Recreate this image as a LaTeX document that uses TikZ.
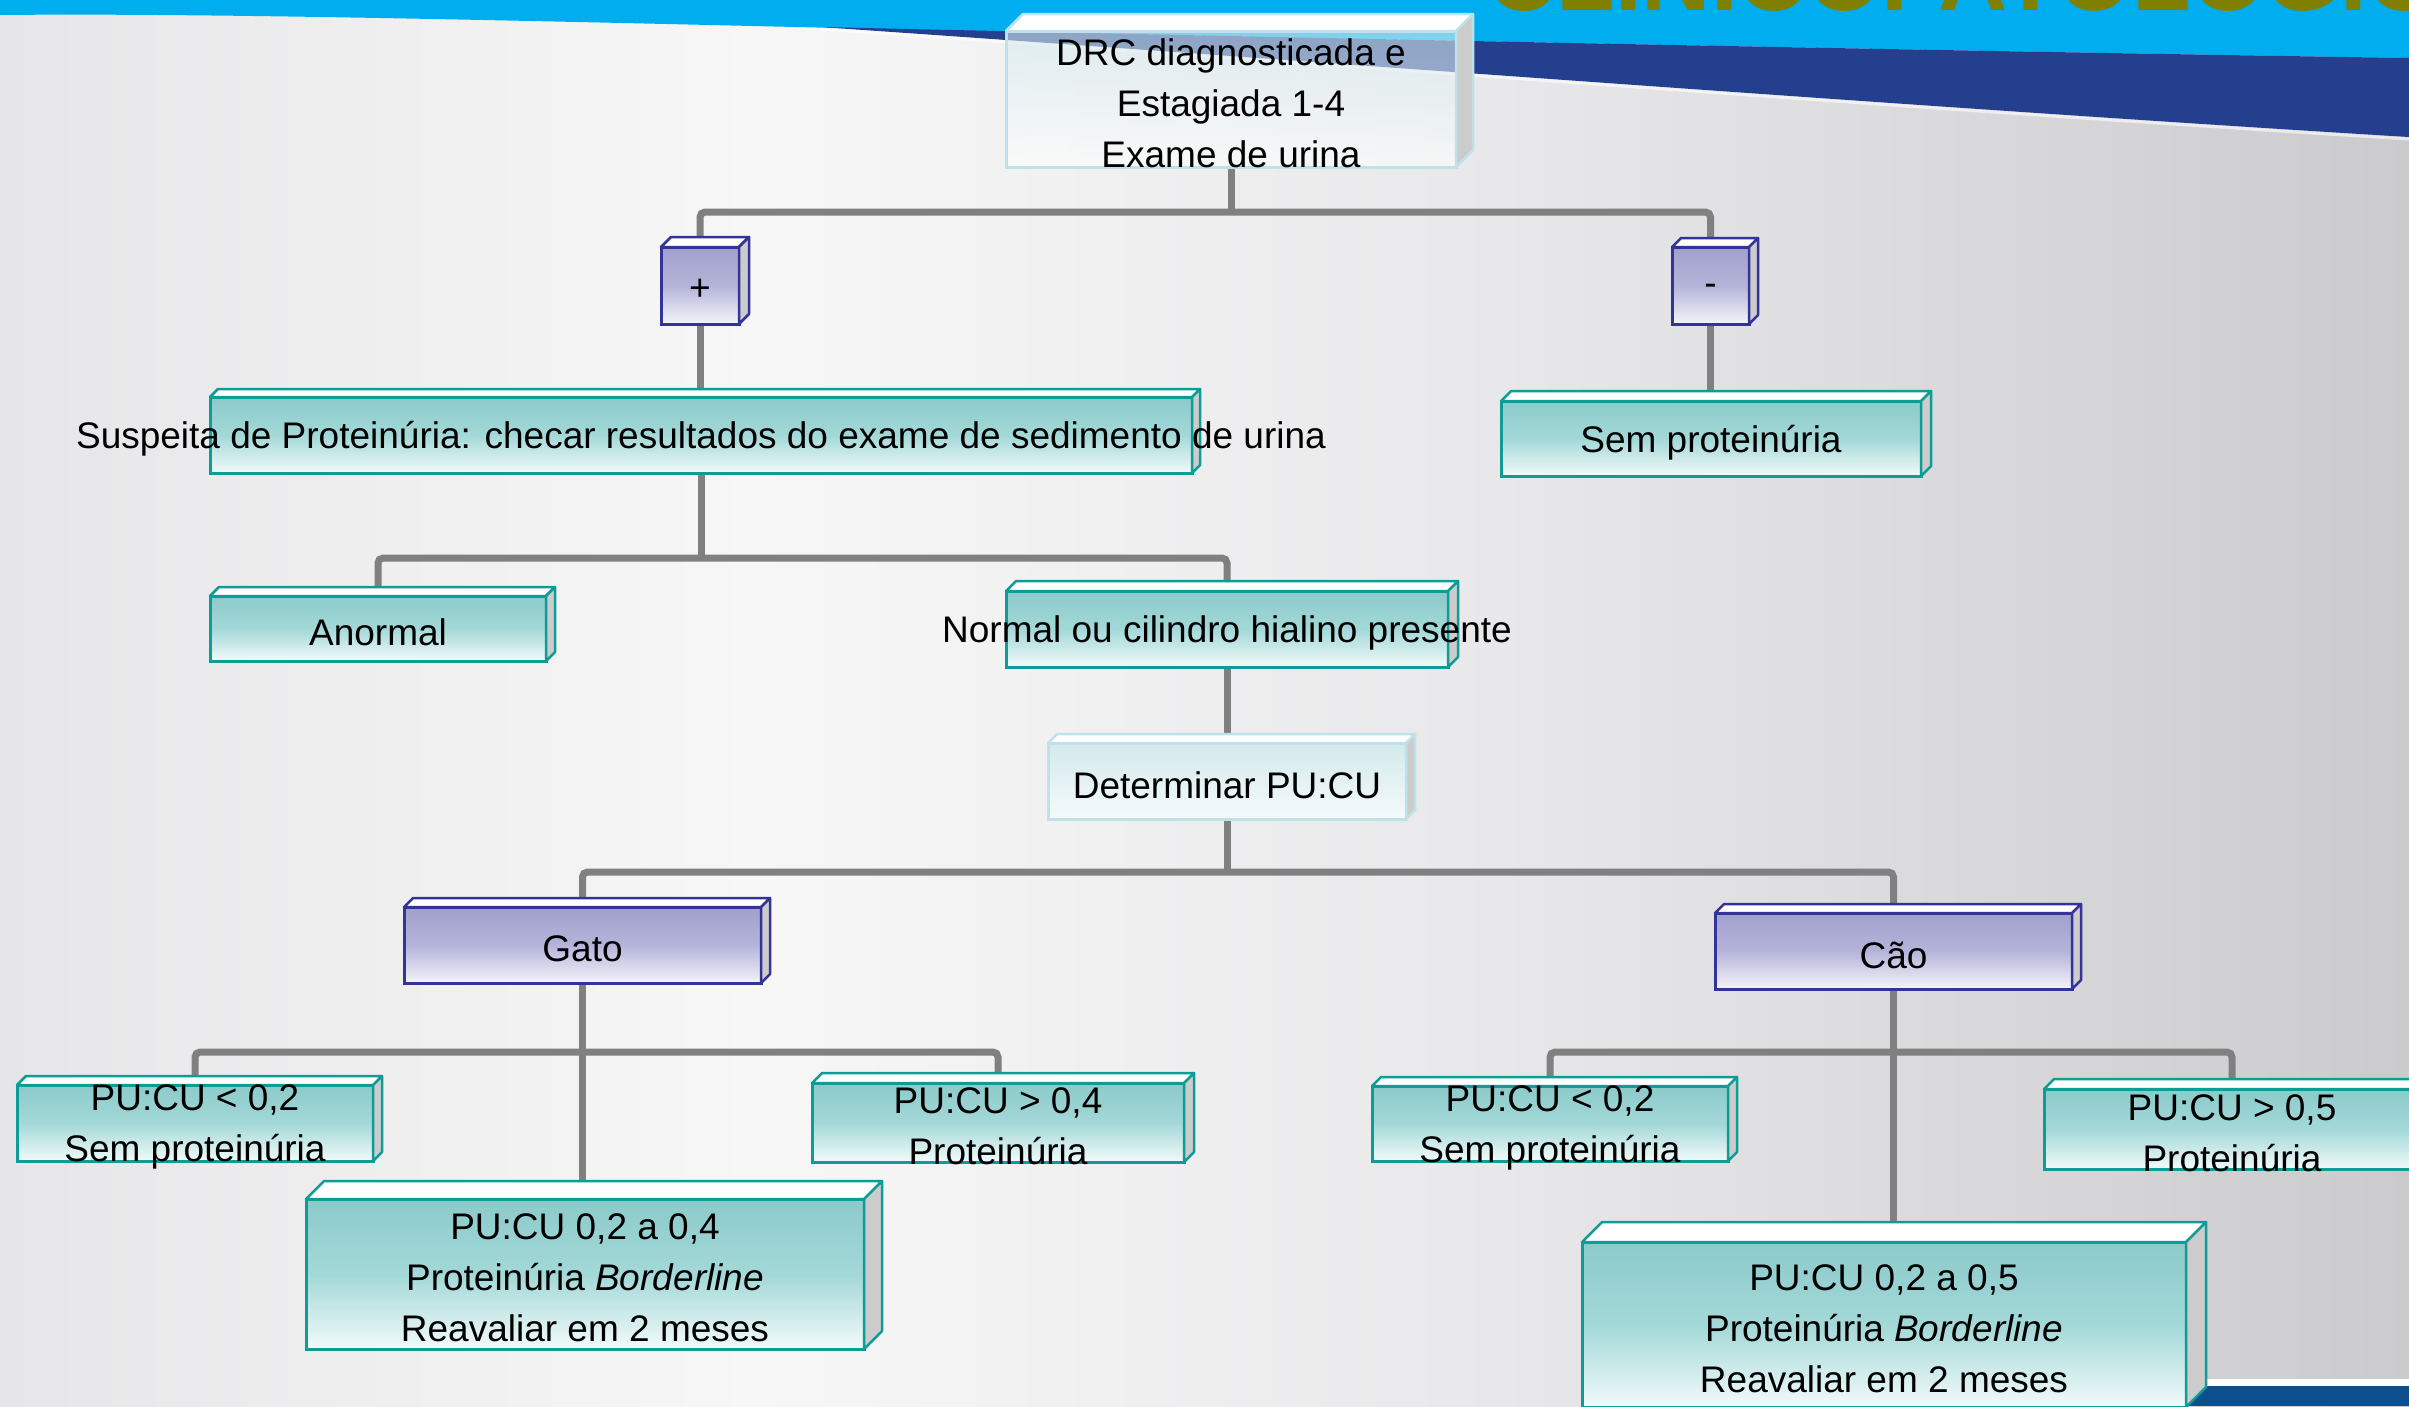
\documentclass[tikz,border=0pt]{standalone}
\usepackage{fontspec}
\setmainfont{Liberation Sans}
\definecolor{tealB}{HTML}{0E9C96}
\definecolor{tealTop}{HTML}{8CCACA}
\definecolor{tealMid}{HTML}{A3D8D8}
\definecolor{tealBot}{HTML}{F2FAFA}
\definecolor{purpB}{HTML}{333399}
\definecolor{purpTop}{HTML}{A0A0CC}
\definecolor{purpMid}{HTML}{B4B4DA}
\definecolor{purpBot}{HTML}{F4F4FA}
\definecolor{paleB}{HTML}{BEE2E7}
\definecolor{paleTop}{HTML}{D4E9EC}
\definecolor{paleBot}{HTML}{F4FAFB}
\definecolor{sideG}{HTML}{CCCCCC}
\definecolor{lineG}{HTML}{808080}
\definecolor{bgA}{HTML}{E6E6E8}
\definecolor{bgB}{HTML}{F7F7F7}
\definecolor{bgC}{HTML}{E8E8EA}
\definecolor{bgD}{HTML}{CBCBCE}
\definecolor{cyanBan}{HTML}{00AEEF}
\definecolor{navyBan}{HTML}{243F8E}
\definecolor{navyBar}{HTML}{0B4F8F}
\definecolor{oliveT}{HTML}{808000}
\pgfdeclarelayer{bgl}
\pgfdeclarelayer{lines}
\pgfsetlayers{bgl,lines,main}
\newcommand\mkbox[8]{%
  \node[#1front, minimum width={(#5-#3)*1pt}, minimum height={(#6-#4)*1pt}] (#2) at ({(#3+#5)/2},{(#4+#6)/2}) {};
  \filldraw[#1face, fill=white] (#2.north west) -- ++(#7,-#7) -- ([shift={(#7,-#7)}]#2.north east) -- (#2.north east) -- cycle;
  \filldraw[#1face, fill=sideG] (#2.north east) -- ++(#7,-#7) -- ([shift={(#7,-#7)}]#2.south east) -- (#2.south east) -- cycle;
  \node[txt] (#2t) at (#2.center) {#8};
}
\begin{document}
\begin{tikzpicture}[x=1pt,y=-1pt,
  tealfront/.style={rectangle, draw=tealB, line width=3pt, top color=tealTop, bottom color=tealBot, middle color=tealMid, inner sep=0pt, outer sep=0pt},
  tealface/.style={draw=tealB, line width=2.5pt, line join=round},
  purpfront/.style={rectangle, draw=purpB, line width=3pt, top color=purpTop, bottom color=purpBot, middle color=purpMid, inner sep=0pt, outer sep=0pt},
  purpface/.style={draw=purpB, line width=2.5pt, line join=round},
  palefront/.style={rectangle, draw=paleB, line width=3pt, top color=paleTop, bottom color=paleBot, inner sep=0pt, outer sep=0pt},
  paleface/.style={draw=paleB, line width=2.5pt, line join=round},
  drcfront/.style={rectangle, draw=paleB, line width=3pt, top color=paleTop, bottom color=white, fill opacity=0.6, inner sep=0pt, outer sep=0pt},
  drcface/.style={draw=paleB, line width=2.5pt, line join=round},
  txt/.style={font=\fontsize{37}{51}\selectfont, align=center, inner sep=0pt, text=black, yshift=-4pt},
  conn/.style={draw=lineG, line width=7pt, rounded corners=5pt}
]
\useasboundingbox (0,0) rectangle (2409,1406);
\clip (0,0) rectangle (2409,1406);
\begin{pgfonlayer}{bgl}
\begin{scope}
\clip (0,0) rectangle (2409,1406);
\shade[left color=bgA, right color=bgB] (0,0) rectangle (751,1406);
\shade[left color=bgB, right color=bgC] (750,0) rectangle (1501,1406);
\shade[left color=bgC, right color=bgD] (1500,0) rectangle (2409,1406);
\fill[cyanBan] (0,0) -- (2409,0) -- (2409,58) .. controls (1900,50) and (1300,38) .. (880,29) .. controls (500,20) and (200,13) .. (0,15) -- cycle;
\fill[navyBan] (820,27) .. controls (1300,38) and (1900,50) .. (2409,58) -- (2409,137) .. controls (1900,106) and (1300,60) .. (820,27) -- cycle;
\draw[white, opacity=0.6, line width=3pt] (2409,139) .. controls (1900,108) and (1300,62) .. (820,29);
\node[anchor=base west, inner sep=0pt, text=oliveT, font=\fontsize{96}{96}\selectfont\bfseries] (title) at (1487,10) {CLINICOPATOLÓGICOS};
\fill[white] (2150,1379) rectangle (2409,1386);
\fill[navyBar] (2150,1386) rectangle (2409,1406);
\end{scope}
\end{pgfonlayer}
\mkbox{drc}{drc}{1006}{31}{1456}{167}{17}{DRC diagnosticada e\\Estagiada 1-4\\Exame de urina}
\mkbox{purp}{plus}{661}{247}{739}{324}{10}{+}
\mkbox{purp}{minus}{1672}{247}{1749}{324}{9}{-}
\mkbox{teal}{susp}{210}{397}{1192}{473}{8}{Suspeita de Proteinúria: checar resultados do exame de sedimento de urina}
\mkbox{teal}{sem}{1501}{401}{1921}{476}{10}{Sem proteinúria}
\mkbox{teal}{anormal}{210}{596}{546}{661}{9}{Anormal}
\mkbox{teal}{normal}{1006}{591}{1448}{667}{10}{Normal ou cilindro hialino presente}
\mkbox{pale}{det}{1048}{743}{1406}{819}{9}{Determinar PU:CU}
\mkbox{purp}{gato}{404}{907}{761}{983}{9}{Gato}
\mkbox{purp}{cao}{1715}{913}{2072}{989}{9}{Cão}
\mkbox{teal}{gl}{17}{1085}{373}{1161}{9}{PU:CU < 0,2\\Sem proteinúria}
\mkbox{teal}{gr}{812}{1083}{1184}{1162}{10}{PU:CU > 0,4\\Proteinúria}
\mkbox{teal}{gm}{306}{1199}{864}{1349}{18}{PU:CU 0,2 a 0,4\\Proteinúria \textit{Borderline}\\Reavaliar em 2 meses}
\mkbox{teal}{cl}{1372}{1086}{1728}{1161}{9}{PU:CU < 0,2\\Sem proteinúria}
\mkbox{teal}{cr}{2044}{1089}{2420}{1169}{10}{PU:CU > 0,5\\Proteinúria}
\mkbox{teal}{cm}{1582}{1242}{2186}{1407}{20}{PU:CU 0,2 a 0,5\\Proteinúria \textit{Borderline}\\Reavaliar em 2 meses}
\path (drc.south) ++(0,45) coordinate (j1);
\path (susp.south) ++(0,85) coordinate (j2);
\path (det.south) ++(0,53) coordinate (j3);
\path (gato.south) ++(0,69) coordinate (j4);
\path (cao.south) ++(0,63) coordinate (j5);
\begin{pgfonlayer}{lines}
\draw[conn] (drc.south) -- (j1);
\draw[conn] (plus.north) |- (j1) -| (minus.north);
\draw[conn] (plus.south) -- (plus.south |- susp.north);
\draw[conn] (minus.south) -- (minus.south |- sem.north);
\draw[conn] (susp.south) -- (j2);
\draw[conn] (anormal.north) |- (j2) -| (normal.north);
\draw[conn] (normal.south) -- (normal.south |- det.north);
\draw[conn] (det.south) -- (j3);
\draw[conn] (gato.north) |- (j3) -| (cao.north);
\draw[conn] (gato.south) -- (gato.south |- gm.north);
\draw[conn] (gl.north) |- (j4) -| (gr.north);
\draw[conn] (cao.south) -- (cao.south |- cm.north);
\draw[conn] (cl.north) |- (j5) -| (cr.north);
\end{pgfonlayer}
\end{tikzpicture}
\end{document}
